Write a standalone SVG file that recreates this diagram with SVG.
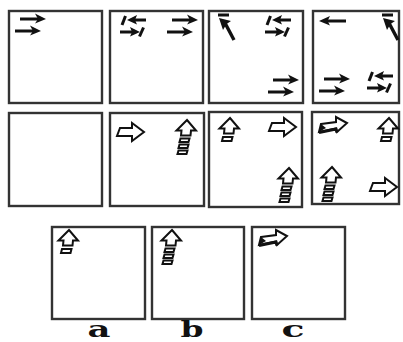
<svg xmlns="http://www.w3.org/2000/svg" xmlns:xlink="http://www.w3.org/1999/xlink" width="403" height="342" viewBox="0 0 403 342">
<style>
.box{fill:#fff;stroke:#333;stroke-width:2.4}
.ln{stroke:#111;stroke-width:3;fill:none;stroke-linecap:butt}
.hd{fill:#111;stroke:none}
.ol{fill:#fff;stroke:#111;stroke-width:2;stroke-linejoin:miter}
.lbl{font-family:"DejaVu Serif","Liberation Serif",serif;font-weight:bold;font-size:22px;fill:#111;text-anchor:middle}
</style>
<defs>
<g id="ar">
<line class="ln" x1="0" y1="0" x2="18" y2="0"/>
<path class="hd" d="M26,0 L15,-5.5 L18,0 L15,4.5 Z"/>
</g>
<g id="dbl">
<use xlink:href="#ar" x="5" y="0"/>
<use xlink:href="#ar" x="0" y="12"/>
</g>
<g id="swap">
<line class="ln" x1="2" y1="9" x2="5.5" y2="0"/>
<path class="hd" d="M7,4 L17,-1 L15,4 L17,8.5 Z"/>
<line class="ln" x1="15" y1="4" x2="26" y2="4"/>
<line class="ln" x1="0" y1="16" x2="12" y2="16"/>
<path class="hd" d="M20,16 L10,11 L12,16 L10,20.5 Z"/>
<line class="ln" x1="19.5" y1="20.5" x2="23.5" y2="11.5"/>
</g>
<g id="nw">
<line class="ln" x1="0" y1="0" x2="11" y2="0"/>
<path class="hd" d="M1,3 L13,6 L8.5,9 L5,15 Z"/>
<line class="ln" x1="7" y1="8" x2="16" y2="25" style="stroke-width:3.4"/>
</g>
<g id="blockR">
<path class="ol" d="M3,5 L15,5 L15,0 L27,9 L15,18 L15,13 L0,13 Z"/>
</g>
<g id="blockC">
<path class="ol" d="M3,7 L18,5 L18,0 L29,6 L19,15 L18,11.5 L1,15 Z"/>
<path class="hd" d="M1,15 L3,7 L8,11 Z"/>
<path class="ln" d="M1,15.5 L18,12 L19,15.5" style="stroke-width:3"/>
</g>
<g id="uparr">
<path class="ol" d="M12,0 L21,10.5 L16,10.5 L15.5,15.5 L6,15.5 L6.5,10.5 L1.5,10.5 Z"/>
</g>
<g id="up1">
<use xlink:href="#uparr"/>
<path class="ol" d="M5,19 L14.5,19 L13.5,23 L4,23 Z"/>
</g>
<g id="up3">
<use xlink:href="#uparr"/>
<path class="ol" d="M5.5,18.5 L14.5,18.5 L13.5,22 L4.5,22 Z"/>
<path class="ol" d="M4.5,24.5 L13.5,24.5 L12.5,28 L3.5,28 Z"/>
<path class="ol" d="M3.5,30.5 L12.5,30.5 L11.5,34 L2.5,34 Z"/>
</g>
</defs>

<g id="box1">
<rect class="box" x="9" y="11" width="93" height="92"/>
<use xlink:href="#dbl" x="15" y="19"/>
</g>
<g id="box2">
<rect class="box" x="110" y="11" width="93" height="92"/>
<use xlink:href="#swap" x="120" y="16"/>
<use xlink:href="#dbl" x="167" y="20"/>
</g>
<g id="box3">
<rect class="box" x="209" y="11" width="94" height="92"/>
<use xlink:href="#nw" x="218" y="15"/>
<use xlink:href="#swap" x="265" y="16"/>
<use xlink:href="#dbl" x="268" y="80"/>
</g>
<g id="box4">
<rect class="box" x="313" y="11" width="86" height="92"/>
<line class="ln" x1="326" y1="21" x2="346" y2="21"/>
<path class="hd" d="M319,21 L330,16 L327.5,21 L330,25.5 Z"/>
<use xlink:href="#nw" x="382" y="15"/>
<use xlink:href="#dbl" x="319" y="79"/>
<use xlink:href="#swap" x="367" y="72"/>
</g>
<g id="box5">
<rect class="box" x="9" y="113" width="93" height="93"/>
</g>
<g id="box6">
<rect class="box" x="110" y="113" width="94" height="93"/>
<use xlink:href="#blockR" x="117" y="123"/>
<use xlink:href="#up3" x="175" y="120"/>
</g>
<g id="box7">
<rect class="box" x="209" y="112" width="93" height="95"/>
<use xlink:href="#up1" x="218" y="118"/>
<use xlink:href="#blockR" x="269" y="118"/>
<use xlink:href="#up3" x="277" y="168"/>
</g>
<g id="box8">
<rect class="box" x="312" y="112" width="87" height="92"/>
<use xlink:href="#blockC" x="318" y="117"/>
<use xlink:href="#up1" x="377" y="118"/>
<use xlink:href="#up3" x="320" y="167"/>
<use xlink:href="#blockR" x="370" y="178"/>
</g>
<g id="boxA">
<rect class="box" x="52" y="227" width="93" height="92"/>
<use xlink:href="#up1" x="57" y="230"/>
<text class="lbl" x="99" y="337" textLength="23" lengthAdjust="spacingAndGlyphs">a</text>
</g>
<g id="boxB">
<rect class="box" x="152" y="227" width="92" height="92"/>
<use xlink:href="#up3" x="160" y="230"/>
<text class="lbl" x="192" y="337" textLength="23" lengthAdjust="spacingAndGlyphs">b</text>
</g>
<g id="boxC">
<rect class="box" x="252" y="227" width="93" height="92"/>
<use xlink:href="#blockC" x="258" y="230"/>
<text class="lbl" x="293" y="337" textLength="23" lengthAdjust="spacingAndGlyphs">c</text>
</g>
</svg>
